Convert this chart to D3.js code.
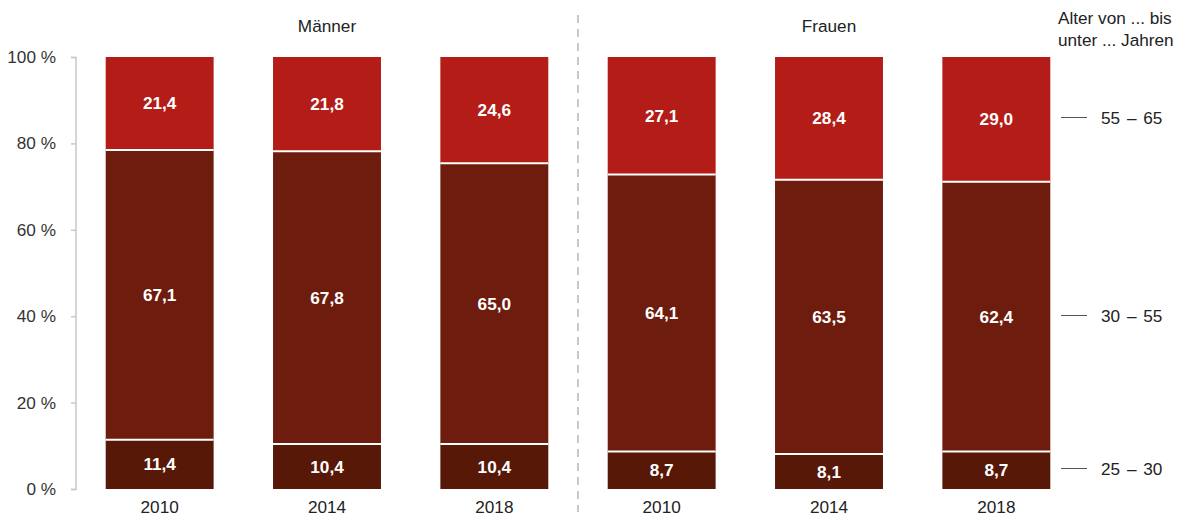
<!DOCTYPE html>
<html><head><meta charset="utf-8">
<script src="https://cdn.jsdelivr.net/npm/d3@7"></script>
<style>body{margin:0;background:#fff;} text{font-family:"Liberation Sans",Arial,sans-serif;}</style>
</head><body>
<svg id="c" width="1177" height="518"></svg>
<script>
const groups = ["Männer", "Frauen"];
const years = ["2010", "2014", "2018"];
const ageClasses = ["25 – 30", "30 – 55", "55 – 65"];
const men_25_30 = [11.4, 10.4, 10.4];
const men_30_55 = [67.1, 67.8, 65.0];
const men_55_65 = [21.4, 21.8, 24.6];
const women_25_30 = [8.7, 8.1, 8.7];
const women_30_55 = [64.1, 63.5, 62.4];
const women_55_65 = [27.1, 28.4, 29.0];
const yTicks = [0, 20, 40, 60, 80, 100];
const colors = ["#571808", "#6D1C0E", "#B31C17"];

const rows = [];
years.forEach((y, i) => rows.push({key: "M" + y, group: 0, year: y, v: [men_25_30[i], men_30_55[i], men_55_65[i]]}));
years.forEach((y, i) => rows.push({key: "F" + y, group: 1, year: y, v: [women_25_30[i], women_30_55[i], women_55_65[i]]}));

const svg = d3.select("#c");
const x = d3.scaleBand().domain(rows.map(r => r.key)).range([76, 1080]).paddingInner(0.355).paddingOuter(0.1775);
const y = d3.scaleLinear().domain([0, 100]).range([489, 57]);
const FS = 17.2;

// y axis
const ax = svg.append("g").attr("transform", "translate(76,0)")
  .call(d3.axisLeft(y).tickValues(yTicks).tickSize(5).tickFormat(d => d + " %"));
ax.select(".domain").attr("stroke", "#c8c8c8").attr("stroke-width", 1.5).attr("d", "M-5,57.5H0V489.5H-5");
ax.selectAll(".tick line").attr("stroke", "#c8c8c8").attr("stroke-width", 1.5);
ax.selectAll(".tick text").attr("font-size", FS).attr("fill", "#333").attr("x", -20).attr("font-family", "Liberation Sans, Arial, sans-serif");

// stacks
rows.forEach(r => {
  let base = 0;
  r.v.forEach((val, k) => {
    const top = k === r.v.length - 1 ? 100 : base + val;
    const g = svg.append("g");
    g.append("rect").attr("x", x(r.key)).attr("width", x.bandwidth())
      .attr("y", y(top)).attr("height", y(base) - y(top)).attr("fill", colors[k]);
    g.append("text").attr("x", x(r.key) + x.bandwidth() / 2).attr("y", (y(base) + y(top)) / 2)
      .attr("dy", "0.35em").attr("text-anchor", "middle").attr("fill", "#fff")
      .attr("font-weight", "bold").attr("font-size", FS).text(val.toFixed(1).replace(".", ","));
    if (k > 0) {
      svg.append("line").attr("x1", x(r.key)).attr("x2", x(r.key) + x.bandwidth())
        .attr("y1", y(base)).attr("y2", y(base)).attr("stroke", "#fff").attr("stroke-width", 2);
    }
    base = top;
  });
  svg.append("text").attr("x", x(r.key) + x.bandwidth() / 2).attr("y", 513)
    .attr("text-anchor", "middle").attr("font-size", FS).attr("fill", "#222").text(r.year);
});

// separator
const sepX = (x("M2018") + x.bandwidth() + x("F2010")) / 2;
svg.append("line").attr("x1", sepX).attr("x2", sepX).attr("y1", 15).attr("y2", 512)
  .attr("stroke", "#c8c8c8").attr("stroke-width", 2).attr("stroke-dasharray", "8,6");

// group titles
groups.forEach((g, i) => {
  const k = rows.filter(r => r.group === i);
  const cx = (x(k[0].key) + x(k[2].key) + x.bandwidth()) / 2;
  svg.append("text").attr("x", cx).attr("y", 32).attr("text-anchor", "middle")
    .attr("font-size", FS).attr("fill", "#222").text(g);
});

// legend
svg.append("text").attr("x", 1058).attr("y", 24).attr("font-size", FS).attr("fill", "#222").text("Alter von ... bis");
svg.append("text").attr("x", 1058).attr("y", 46).attr("font-size", FS).attr("fill", "#222").text("unter ... Jahren");
const last = rows[rows.length - 1];
let b = 0;
last.v.forEach((val, k) => {
  const top = k === last.v.length - 1 ? 100 : b + val;
  const ly = Math.round((y(b) + y(top)) / 2) - 1.5;
  svg.append("line").attr("x1", 1061).attr("x2", 1087).attr("y1", ly).attr("y2", ly).attr("stroke", "#555").attr("stroke-width", 1);
  svg.append("text").attr("x", 1101).attr("y", ly).attr("dy", "0.35em").attr("font-size", FS).attr("fill", "#222").attr("word-spacing", "2px").text(ageClasses[k]);
  b = top;
});
</script>
</body></html>
